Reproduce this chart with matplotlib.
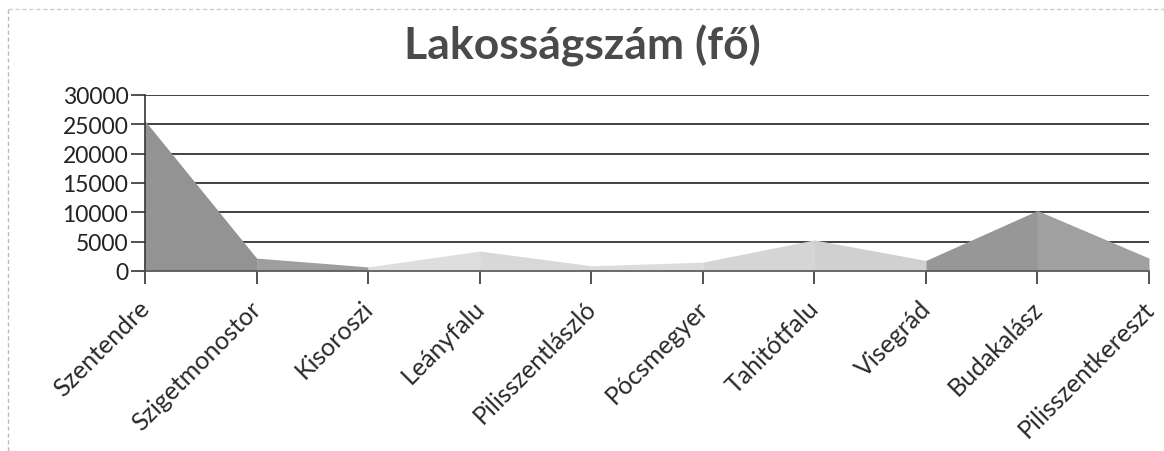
import matplotlib
matplotlib.use("Agg")
import matplotlib.pyplot as plt
from matplotlib.lines import Line2D
from matplotlib.transforms import ScaledTranslation

categories = ["Szentendre", "Szigetmonostor", "Kisoroszi", "Leányfalu", "Pilisszentlászló",
              "Pócsmegyer", "Tahitótfalu", "Visegrád", "Budakalász", "Pilisszentkereszt"]
values = [25600, 2200, 700, 3400, 900, 1500, 5300, 1800, 10300, 2200]
yticks = [0, 5000, 10000, 15000, 20000, 25000, 30000]
title = "Lakosságszám (fő)"

segment_colors = ["#939393", "#9e9e9e", "#dedede", "#d8d8d8", "#dcdcdc",
                  "#d5d5d5", "#d0d0d0", "#979797", "#a0a0a0"]

plt.rcParams['font.family'] = ['Lato', 'DejaVu Sans']

fig = plt.figure(figsize=(11.64, 4.52), dpi=100)
ax = fig.add_axes([145/1164, (452-272)/452, (1149-145)/1164, (272-96)/452])

x = list(range(len(categories)))
for i in range(len(categories) - 1):
    ax.fill_between(x[i:i+2], values[i:i+2], 0, color=segment_colors[i], lw=0, zorder=2)

ax.set_xlim(0, len(categories) - 1)
ax.set_ylim(0, 30000)
ax.set_yticks(yticks)
ax.set_yticklabels([str(v) for v in yticks], fontsize=16.5, color="#222222")
ax.set_xticks(x)
ax.set_xticklabels(categories, rotation=45, ha="right", rotation_mode="anchor",
                   fontsize=18, color="#2a2a2a")
ax.tick_params(axis="x", length=9, width=1.2, color="#333333", pad=9)
ax.tick_params(axis="y", length=10, width=1.2, color="#333333", pad=2)
shift = ScaledTranslation(-7/100, 0, fig.dpi_scale_trans)
for lbl in ax.get_xticklabels():
    lbl.set_transform(lbl.get_transform() + shift)

for v in yticks[1:]:
    ax.axhline(v, color="#333333", lw=1.3, zorder=1)

for s in ["top", "right"]:
    ax.spines[s].set_visible(False)
ax.spines["left"].set_color("#333333")
ax.spines["left"].set_linewidth(1.2)
ax.spines["bottom"].set_color("#555555")
ax.spines["bottom"].set_linewidth(1.2)
ax.spines["bottom"].set_zorder(3)
ax.set_facecolor("none")

fig.text(0.5, 1 - 46/452, title, ha="center", va="center", fontsize=32,
         fontweight="bold", color="#4a4a4a")

# faint outer chart border
fig.add_artist(Line2D([8/1164, 8/1164], [0, 1 - 10/452], transform=fig.transFigure,
                      color="#bbbbbb", lw=1, ls=(0, (3, 2))))
fig.add_artist(Line2D([8/1164, 1], [1 - 10/452, 1 - 10/452], transform=fig.transFigure,
                      color="#cccccc", lw=1, ls=(0, (3, 2))))

fig.savefig("out.png", dpi=100)
